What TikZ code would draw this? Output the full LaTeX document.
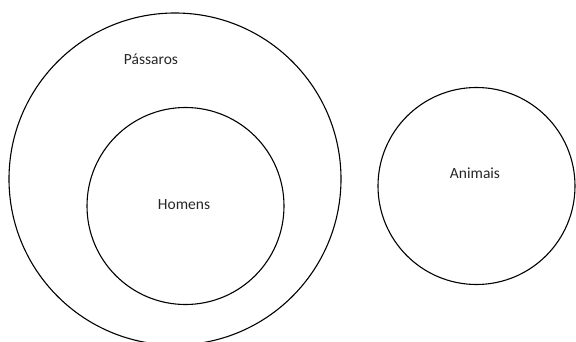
\documentclass[tikz,border=0pt]{standalone}
\usepackage{fontspec}
\setmainfont{Carlito}
\begin{document}
\begin{tikzpicture}[x=1pt,y=-1pt,
    set/.style={circle,draw,line width=1.1pt,inner sep=0pt},
    setname/.style={font=\fontsize{15.5}{18}\selectfont,text=black!85}]
    \useasboundingbox (0,0) rectangle (576,342);
    \node[set,minimum size=332pt] (passaros) at (175,179) {};
    \node[set,minimum size=197pt] (homens) at (185.5,206) {};
    \node[set,minimum size=197pt] (animais) at (476.5,186) {};
    \node[setname] (passarosname) at (151,59) {Pássaros};
    \node[setname] (homensname) at (184,205) {Homens};
    \node[setname] (animaisname) at (475,173) {Animais};
\end{tikzpicture}
\end{document}
